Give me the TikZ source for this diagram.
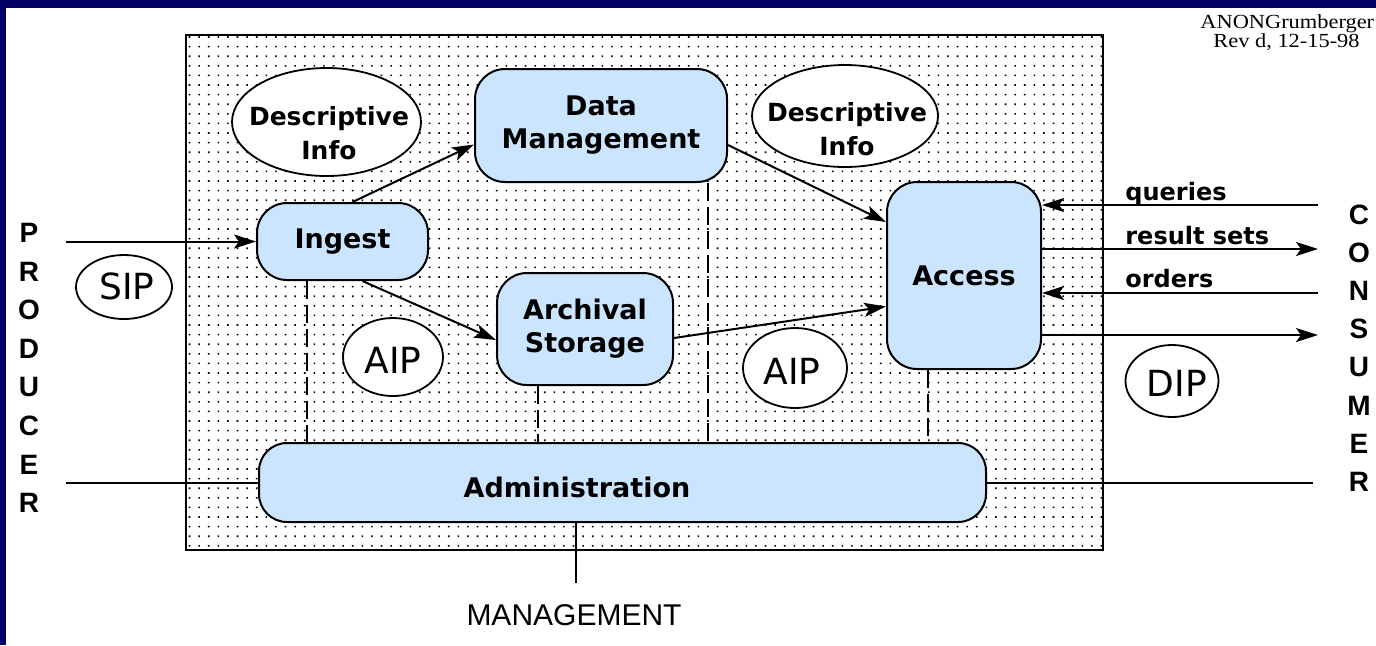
\documentclass[tikz,border=0pt]{standalone}
\usepackage{fontspec}
\setmainfont{DejaVu Sans}
\newfontfamily\armfont{Liberation Sans}
\newfontfamily\notefont{Liberation Serif}[FakeStretch=1.12]
\usetikzlibrary{arrows.meta,calc,shapes.geometric}
\definecolor{navyframe}{RGB}{0,0,102}
\definecolor{procblue}{RGB}{204,229,255}

\begin{document}
\begin{tikzpicture}[x=0.5pt,y=-0.5pt,
  proc/.style={draw=black, line width=1pt, fill=procblue, rounded corners=15pt,
    inner sep=0pt, align=center, font=\fontsize{13.5pt}{16.5pt}\selectfont\bfseries},
  info/.style={draw=black, line width=0.9pt, fill=white, ellipse, inner sep=0pt},
  infotext/.style={align=center, inner sep=0pt, font=\fontsize{12.5pt}{17pt}\selectfont\bfseries},
  pkgtext/.style={inner sep=0pt, font=\fontsize{18pt}{20pt}\selectfont},
  flow/.style={line width=1pt, -{Stealth[length=11pt,width=7pt,inset=2.5pt]}},
  link/.style={line width=1pt},
  ctrl/.style={line width=0.8pt, dash pattern=on 9pt off 3pt},
  party/.style={inner sep=0pt, font=\armfont\bfseries\fontsize{14pt}{16pt}\selectfont},
  ifacetext/.style={anchor=base west, inner sep=0pt, font=\fontsize{12pt}{14pt}\selectfont\bfseries},
  note/.style={anchor=base west, inner sep=0pt, font=\notefont\fontsize{10pt}{11pt}\selectfont}
]
\useasboundingbox (0,0) rectangle (1376,645);

% frame strips
\fill[navyframe] (0,0) rectangle (1376,8);
\fill[navyframe] (0,0) rectangle (6,645);

% stippled archive area
\fill[black] \foreach \i in {0,...,95}{\foreach \j in {0,...,53}{
  (188.7+9.6*\i,36.2+9.6*\j) rectangle ++(1.6,1.6)}};
\draw[line width=1.3pt] (186,35) rectangle (1103,550);

% revision note
\node[note] (note1) at (1200,28) {ANONGrumberger};
\node[note] (note2) at (1213,47) {Rev d, 12-15-98};

% functional entities
\node[proc, minimum width=126pt, minimum height=56.5pt] (dm) at (601,125.5) {Data\\Management};
\node[proc, minimum width=85.5pt, minimum height=38.5pt] (ingest) at (342.5,241.5) {Ingest};
\node[proc, minimum width=88pt, minimum height=56pt] (as) at (585,329) {Archival\\Storage};
\node[proc, minimum width=77pt, minimum height=93.5pt] (acc) at (964,275.5) {Access};
\node[proc, rounded corners=14pt, minimum width=363.5pt, minimum height=39.5pt] (adm) at (622.5,482.5) {};
\node[proc, fill=none, draw=none] (admtext) at (577,487) {Administration};

% information packages
\node[info, minimum width=94.5pt, minimum height=54pt] (di1) at (326.5,122) {};
\node[infotext] (di1t) at (329,133) {Descriptive\\Info};
\node[info, minimum width=93pt, minimum height=51pt] (di2) at (845,116) {};
\node[infotext] (di2t) at (847,129) {Descriptive\\Info};
\node[info, minimum width=48pt, minimum height=32pt] (sip) at (124,287) {};
\node[pkgtext] (siptext) at (127,286) {SIP};
\node[info, minimum width=50pt, minimum height=39pt] (aip1) at (393,357) {};
\node[pkgtext] (aip1text) at (393,360) {AIP};
\node[info, minimum width=52pt, minimum height=40pt] (aip2) at (795,368) {};
\node[pkgtext] (aip2text) at (792,371) {AIP};
\node[info, minimum width=46.5pt, minimum height=36pt] (dip) at (1172,381) {};
\node[pkgtext] (diptext) at (1177,383) {DIP};

% internal flows
\draw[flow] ($(ingest.north)+(10,0)$) -- ($(dm.west)+(0,19)$);
\draw[flow] ($(ingest.south)+(20,0)$) -- ($(as.west)+(0,11)$);
\draw[flow] ($(dm.east)+(0,19.5)$) -- ($(acc.west)+(0,-53.5)$);
\draw[flow] ($(as.east)+(0,9)$) -- ($(acc.west)+(0,31)$);

% control links to Administration
\coordinate (c1) at ($(ingest.south)+(-35.5,0)$);
\coordinate (c2) at ($(as.south)+(-47,0)$);
\coordinate (c3) at ($(dm.south)+(107,0)$);
\coordinate (c4) at ($(acc.south)+(-36,0)$);
\draw[ctrl] (c1) -- (c1 |- adm.north);
\draw[ctrl] (c2) -- (c2 |- adm.north);
\draw[ctrl] (c3) -- (c3 |- adm.north);
\draw[ctrl] (c4) -- (c4 |- adm.north);

% producer side
\coordinate (prodIn) at (66,241.5);
\draw[flow] (prodIn) -- (ingest.west);
\coordinate (prodAdm) at (66,482.5);
\draw[link] (prodAdm) -- (adm.west);
\foreach \ch [count=\k from 0] in {P,R,O,D,U,C,E,R}
  \node[party] (prod\k) at (29,233+38.6*\k) {\ch};

% consumer side
\coordinate (qEnd) at (1318,205);
\coordinate (rEnd) at (1318,249);
\coordinate (oEnd) at (1318,293);
\coordinate (dEnd) at (1318,335);
\draw[flow] (qEnd) -- (acc.east |- qEnd);
\draw[flow] (acc.east |- rEnd) -- (rEnd);
\draw[flow] (oEnd) -- (acc.east |- oEnd);
\draw[flow] (acc.east |- dEnd) -- (dEnd);
\node[ifacetext] (qlab) at (1125,200) {queries};
\node[ifacetext] (rlab) at (1125,244) {result sets};
\node[ifacetext] (olab) at (1125,287) {orders};
\coordinate (consAdm) at (1313,482.5);
\draw[link] (adm.east) -- (consAdm);
\foreach \ch [count=\k from 0] in {C,O,N,S,U,M,E,R}
  \node[party] (cons\k) at (1359,215+38.1*\k) {\ch};

% management
\coordinate (mgmt) at (576,583);
\draw[link] (adm.south -| mgmt) -- (mgmt);
\node[inner sep=0pt, font=\armfont\fontsize{15pt}{17pt}\selectfont] (mgmttext) at (574,615) {MANAGEMENT};
\end{tikzpicture}
\end{document}
